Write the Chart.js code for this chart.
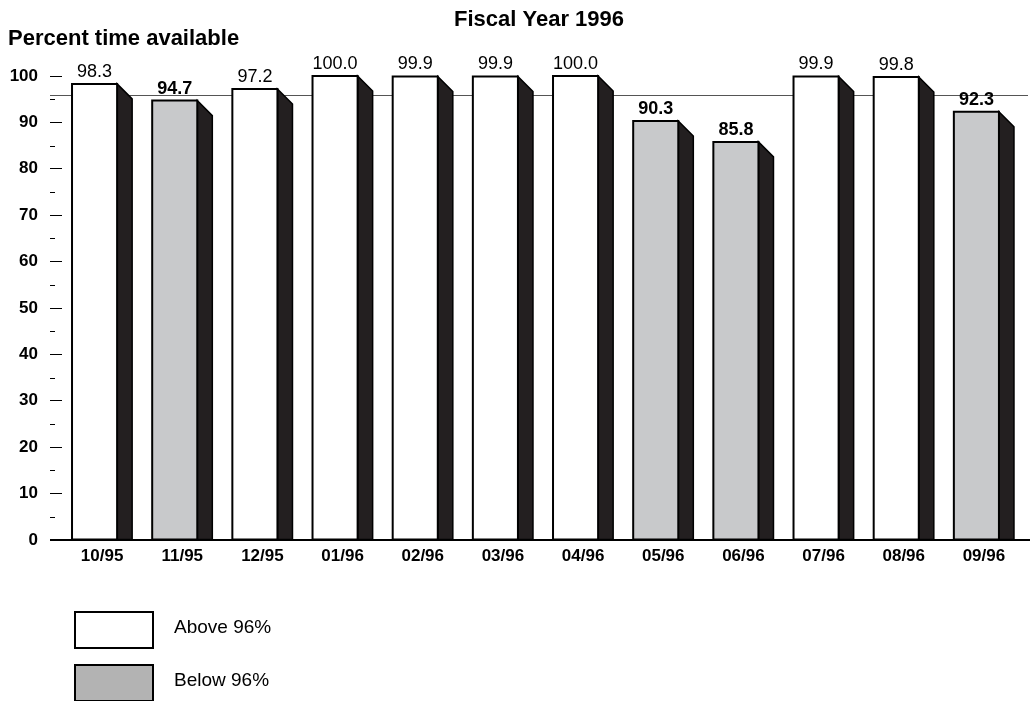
<!DOCTYPE html>
<html>
<head>
<meta charset="utf-8">
<script src="https://cdn.jsdelivr.net/npm/chart.js@4.4.0/dist/chart.umd.min.js"></script>
<style>
    body { margin: 0; background: #fff; font-family: Arial, "Liberation Sans", sans-serif; }
    #wrap { position: absolute; left: 0; top: 0; width: 1033px; height: 701px; }
    .legend-box { position: absolute; left: 74px; width: 76px; height: 34px; border: 2px solid #000; }
    .legend-text { position: absolute; left: 174px; font-size: 19px; color: #000; line-height: 22px; }
</style>
</head>
<body>
<div id="wrap">
    <canvas id="availChart" width="1033" height="701"></canvas>
    <div class="legend-box" style="top: 611px; background: #fff;"></div>
    <div class="legend-text" style="top: 616px;">Above 96%</div>
    <div class="legend-box" style="top: 664px; background: #b3b3b3;"></div>
    <div class="legend-text" style="top: 669px;">Below 96%</div>
</div>
<script>
const months = ['10/95', '11/95', '12/95', '01/96', '02/96', '03/96', '04/96', '05/96', '06/96', '07/96', '08/96', '09/96'];
const availability = [98.3, 94.7, 97.2, 100.0, 99.9, 99.9, 100.0, 90.3, 85.8, 99.9, 99.8, 92.3];
const threshold = 96;
const minorTicks = [5, 15, 25, 35, 45, 55, 65, 75, 85, 95];

const FONT = 'Arial, "Liberation Sans", sans-serif';
const ABOVE_COLOR = '#ffffff';
const BELOW_COLOR = '#c8c9cb';
const SIDE_COLOR = '#231f20';

// draws the reference line, axis decorations and the 3d bars
const boxBarsPlugin = {
    id: 'boxBars',
    beforeDatasetsDraw(chart) {
        const ctx = chart.ctx;
        const y = chart.scales.y;
        const area = chart.chartArea;

        ctx.save();
        // 96% line behind the bars
        const ty = Math.round(y.getPixelForValue(threshold)) + 0.5;
        ctx.strokeStyle = '#555';
        ctx.lineWidth = 1;
        ctx.beginPath();
        ctx.moveTo(50, ty);
        ctx.lineTo(1028, ty);
        ctx.stroke();

        // minor ticks
        ctx.strokeStyle = '#000';
        minorTicks.forEach(v => {
            const py = Math.round(y.getPixelForValue(v)) + 0.5;
            ctx.beginPath();
            ctx.moveTo(area.left - 12, py);
            ctx.lineTo(area.left - 7, py);
            ctx.stroke();
        });

        // titles
        ctx.fillStyle = '#000';
        ctx.textBaseline = 'alphabetic';
        ctx.font = 'bold 22px ' + FONT;
        ctx.textAlign = 'center';
        ctx.fillText('Fiscal Year 1996', (area.left + area.right) / 2 - 4, 26);
        ctx.textAlign = 'left';
        ctx.fillText('Percent time available', 8, 45);
        ctx.restore();
    },
    afterDatasetsDraw(chart) {
        const ctx = chart.ctx;
        const meta = chart.getDatasetMeta(0);

        ctx.save();
        meta.data.forEach((bar, i) => {
            const p = bar.getProps(['x', 'y', 'base', 'width'], true);
            const left = p.x - p.width / 2;
            const frontW = p.width * 0.75;
            const fr = left + frontW;
            const sr = p.x + p.width / 2;
            const depth = sr - fr;
            const value = availability[i];

            // side
            ctx.fillStyle = SIDE_COLOR;
            ctx.strokeStyle = '#000';
            ctx.lineWidth = 1.5;
            ctx.beginPath();
            ctx.moveTo(fr, p.y);
            ctx.lineTo(sr, p.y + depth);
            ctx.lineTo(sr, p.base);
            ctx.lineTo(fr, p.base);
            ctx.closePath();
            ctx.fill();
            ctx.stroke();

            // front
            ctx.fillStyle = value >= threshold ? ABOVE_COLOR : BELOW_COLOR;
            ctx.lineWidth = 2;
            ctx.beginPath();
            ctx.rect(left, p.y, frontW, p.base - p.y);
            ctx.fill();
            ctx.stroke();

            // value label
            ctx.fillStyle = '#000';
            ctx.font = (value >= threshold ? '' : 'bold ') + '18px ' + FONT;
            ctx.textAlign = 'center';
            ctx.textBaseline = 'alphabetic';
            ctx.fillText(value.toFixed(1), left + frontW / 2, p.y - 7);
        });

        // baseline
        const by = Math.round(chart.scales.y.getPixelForValue(0));
        ctx.strokeStyle = '#000';
        ctx.lineWidth = 2;
        ctx.beginPath();
        ctx.moveTo(50, by);
        ctx.lineTo(1030, by);
        ctx.stroke();
        ctx.restore();
    }
};

new Chart(document.getElementById('availChart'), {
    type: 'bar',
    data: {
        labels: months,
        datasets: [{
            data: availability,
            backgroundColor: 'rgba(0,0,0,0)',
            borderWidth: 0,
            barPercentage: 0.75,
            categoryPercentage: 1.0
        }]
    },
    options: {
        responsive: false,
        animation: false,
        events: [],
        layout: {
            padding: { left: 0, right: 9, top: 76, bottom: 129 }
        },
        plugins: {
            legend: { display: false },
            tooltip: { enabled: false },
            title: { display: false }
        },
        scales: {
            x: {
                grid: { display: false, drawTicks: false },
                border: { display: false },
                afterFit: (s) => { s.height = 32; },
                ticks: {
                    color: '#000',
                    font: { family: FONT, size: 17, weight: 'bold' },
                    padding: 6,
                    maxRotation: 0,
                    autoSkip: false
                }
            },
            y: {
                min: 0,
                max: 100,
                afterFit: (s) => { s.width = 62; },
                grid: {
                    drawOnChartArea: false,
                    drawTicks: true,
                    tickLength: 12,
                    tickColor: '#000'
                },
                border: { display: false },
                ticks: {
                    stepSize: 10,
                    color: '#000',
                    padding: 12,
                    font: { family: FONT, size: 17, weight: 'bold' }
                }
            }
        }
    },
    plugins: [boxBarsPlugin]
});
</script>
</body>
</html>
